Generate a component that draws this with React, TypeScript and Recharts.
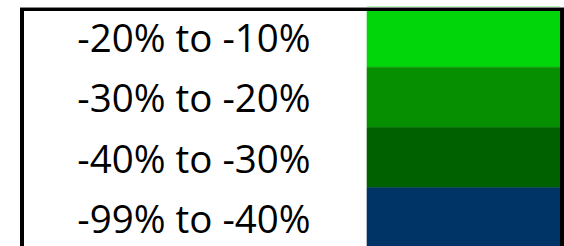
import React from "react";
import { BarChart, Bar, XAxis, YAxis, Cell } from "recharts";

const labels = ["-20% to -10%", "-30% to -20%", "-40% to -30%", "-99% to -40%"];
const values = [1, 1, 1, 1];
const colors = ["#00D60A", "#068F00", "#006100", "#003366"];

const data = labels.map((label, i) => ({ label, v: values[i] }));

const Tick = (props: any) => {
  const { y, payload } = props;
  return (
    <text
      x={194}
      y={y + 15}
      textAnchor="middle"
      fontFamily="'Open Sans', sans-serif"
      fontSize={38.5}
      fill="#000"
    >
      {payload.value}
    </text>
  );
};

export default function App() {
  return (
    <div
      style={{
        position: "fixed",
        left: 0,
        top: 0,
        width: 564,
        height: 246,
        overflow: "hidden",
        background: "#fff",
      }}
    >
      <BarChart
        width={564}
        height={256}
        data={data}
        layout="vertical"
        margin={{ top: 7, right: 4, bottom: 8, left: 0 }}
        barCategoryGap={0}
      >
        <XAxis type="number" domain={[0, 1]} hide />
        <YAxis
          type="category"
          dataKey="label"
          width={367}
          axisLine={false}
          tickLine={false}
          tick={<Tick />}
          interval={0}
        />
        <Bar dataKey="v" isAnimationActive={false}>
          {data.map((d, i) => (
            <Cell key={d.label} fill={colors[i]} stroke={colors[i]} strokeWidth={0.6} />
          ))}
        </Bar>
      </BarChart>
      <div style={{ position: "absolute", left: 20, top: 7, width: 544, height: 1, background: "#888" }} />
      <div style={{ position: "absolute", left: 20, top: 8, width: 544, height: 3, background: "#000" }} />
      <div style={{ position: "absolute", left: 20, top: 8, width: 4, height: 260, background: "#000" }} />
      <div style={{ position: "absolute", left: 560, top: 8, width: 4, height: 260, background: "#000" }} />
    </div>
  );
}
